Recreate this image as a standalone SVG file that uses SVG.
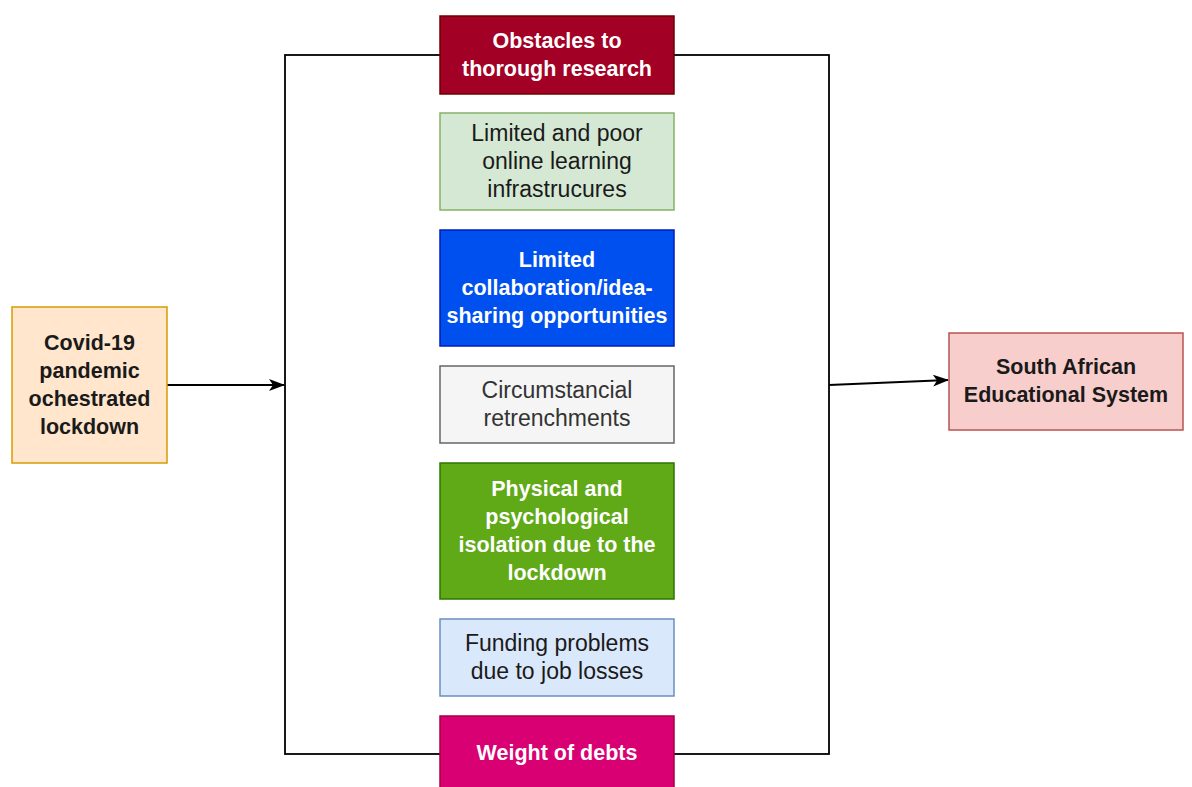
<svg xmlns="http://www.w3.org/2000/svg" width="1192" height="787" viewBox="0 0 1192 787">
<defs>
<marker id="arr" viewBox="0 0 16 12" refX="15" refY="6" markerWidth="16" markerHeight="12" markerUnits="userSpaceOnUse" orient="auto">
<path d="M0,0 L16,6 L0,12 L4,6 Z" fill="#000"/>
</marker>
<style>
text{font-family:"Liberation Sans",Arial,sans-serif;font-size:23px;text-anchor:middle;dominant-baseline:central}
.b{font-weight:bold;font-size:21.5px}
.w{fill:#ffffff}
.d{fill:#1a1a1a}
rect{stroke-width:1.5}
</style>
</defs>
<rect width="1192" height="787" fill="#ffffff" style="stroke:none"/>
<g id="connectors" fill="none" stroke="#000" stroke-width="2">
<rect x="285" y="55" width="544" height="699" fill="none" stroke="#000" style="stroke-width:1.8"/>
<line x1="167" y1="385" x2="284" y2="385" marker-end="url(#arr)"/>
<line x1="829" y1="385" x2="948" y2="380" marker-end="url(#arr)"/>
</g>
<g id="covid">
<rect x="12" y="307" width="155" height="156" fill="#ffe6cc" stroke="#d79b00"/>
<text class="b d" x="89.5" y="343">Covid-19</text>
<text class="b d" x="89.5" y="371">pandemic</text>
<text class="b d" x="89.5" y="399">ochestrated</text>
<text class="b d" x="89.5" y="427">lockdown</text>
</g>
<g id="obstacles">
<rect x="440" y="16" width="234" height="78" fill="#a20025" stroke="#6f0000"/>
<text class="b w" x="557" y="41">Obstacles to</text>
<text class="b w" x="557" y="69">thorough research</text>
</g>
<g id="online">
<rect x="440" y="113" width="234" height="97" fill="#d5e8d4" stroke="#82b366"/>
<text class="d" x="557" y="133">Limited and poor</text>
<text class="d" x="557" y="161">online learning</text>
<text class="d" x="557" y="189">infrastrucures</text>
</g>
<g id="collab">
<rect x="440" y="230" width="234" height="116" fill="#0050ef" stroke="#001dbc"/>
<text class="b w" x="557" y="260">Limited</text>
<text class="b w" x="557" y="288">collaboration/idea-</text>
<text class="b w" x="557" y="316">sharing opportunities</text>
</g>
<g id="retrench">
<rect x="440" y="366" width="234" height="77" fill="#f5f5f5" stroke="#666666"/>
<text x="557" y="390" fill="#333333">Circumstancial</text>
<text x="557" y="418" fill="#333333">retrenchments</text>
</g>
<g id="isolation">
<rect x="440" y="463" width="234" height="136" fill="#60a917" stroke="#2d7600"/>
<text class="b w" x="557" y="489">Physical and</text>
<text class="b w" x="557" y="517">psychological</text>
<text class="b w" x="557" y="545">isolation due to the</text>
<text class="b w" x="557" y="573">lockdown</text>
</g>
<g id="funding">
<rect x="440" y="619" width="234" height="77" fill="#dae8fc" stroke="#6c8ebf"/>
<text class="d" x="557" y="643">Funding problems</text>
<text class="d" x="557" y="671">due to job losses</text>
</g>
<g id="debts">
<rect x="440" y="716" width="234" height="78" fill="#d80073" stroke="#a50040"/>
<text class="b w" x="557" y="753">Weight of debts</text>
</g>
<g id="saes">
<rect x="949" y="333" width="234" height="97" fill="#f8cecc" stroke="#b85450"/>
<text class="b d" x="1066" y="367">South African</text>
<text class="b d" x="1066" y="395">Educational System</text>
</g>
</svg>
